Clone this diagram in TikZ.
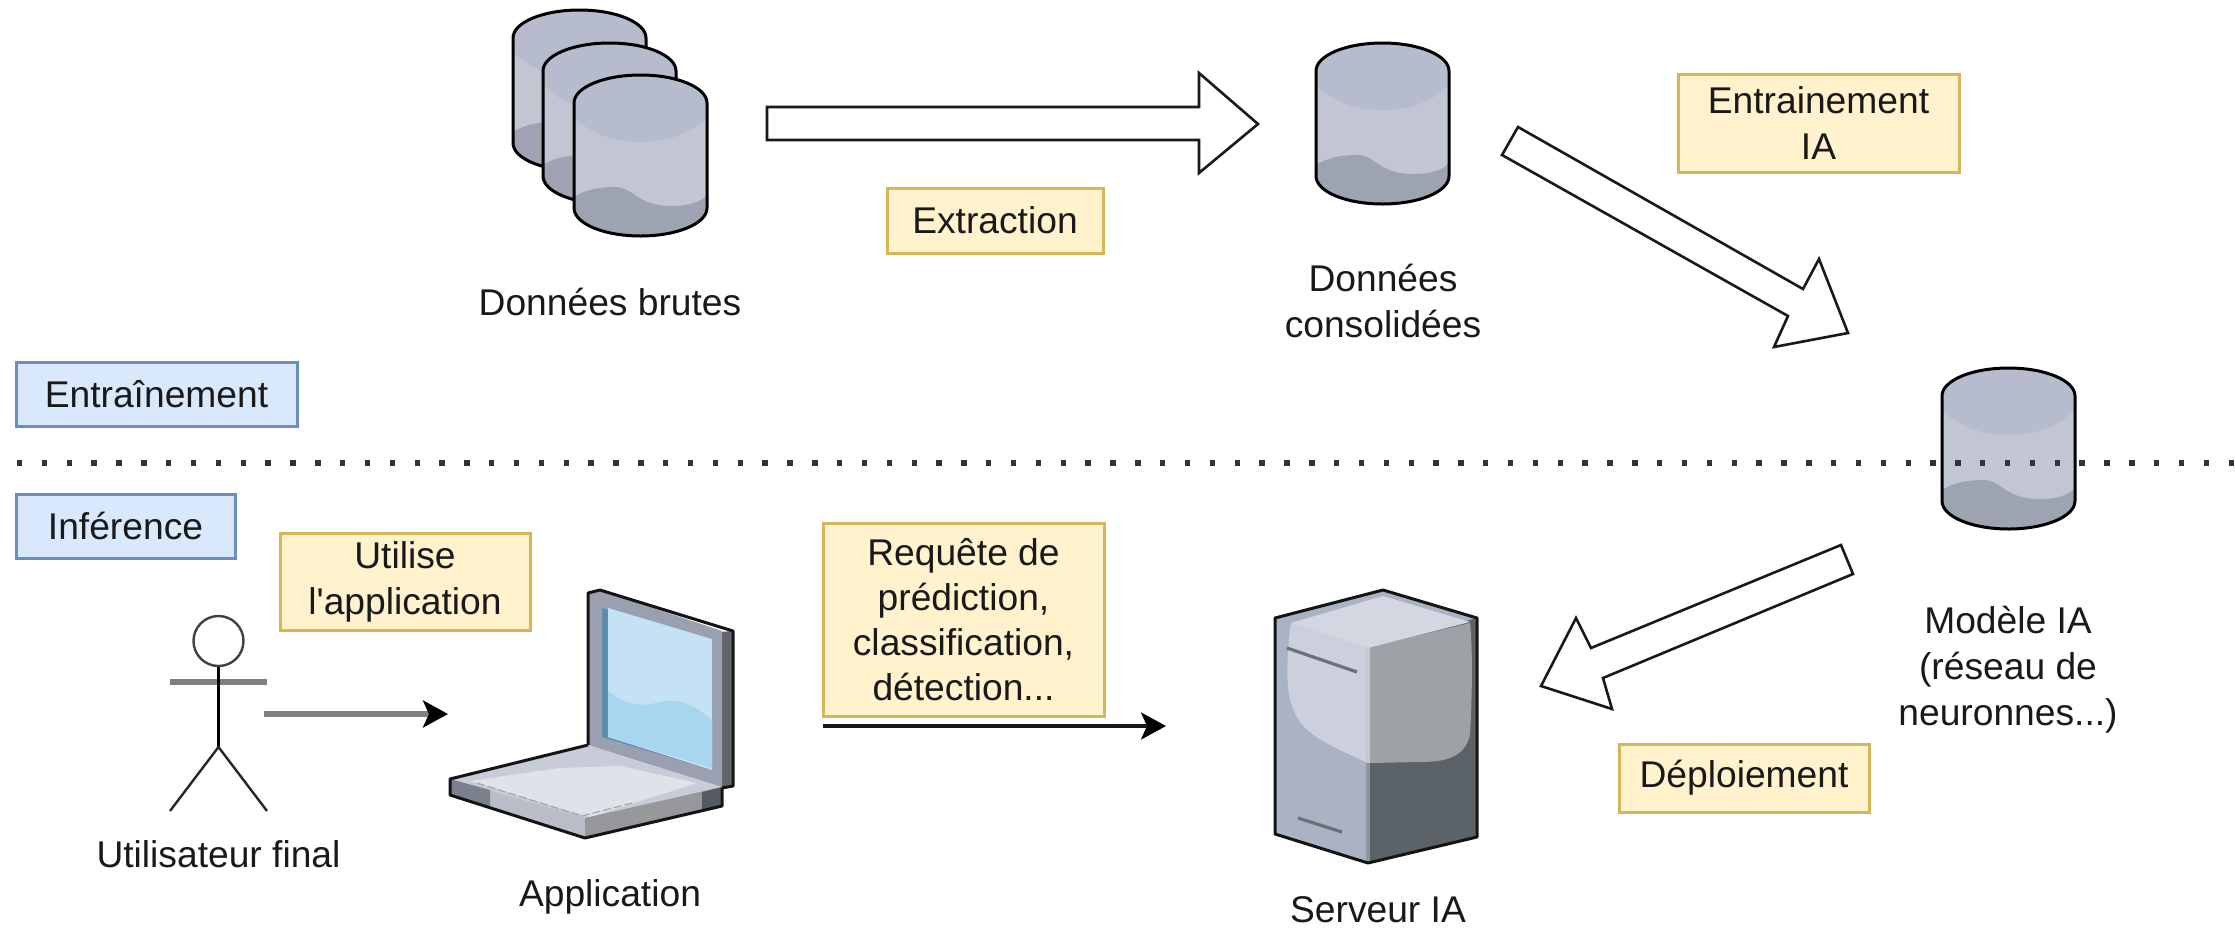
\documentclass[tikz,border=0pt]{standalone}
\usepackage{fontspec}
\setmainfont{Liberation Sans}
\newfontfamily\labelfont{Liberation Sans}
\usetikzlibrary{arrows.meta}
\definecolor{yfill}{HTML}{FFF2CC}\definecolor{ydraw}{HTML}{D6B656}
\definecolor{bfill}{HTML}{DAE8FC}\definecolor{bdraw}{HTML}{6C8EBF}
\definecolor{cyltop}{HTML}{B6BCCE}\definecolor{cylmid}{HTML}{C2C6D2}\definecolor{cylbot}{HTML}{9EA3B2}
\definecolor{bezel}{HTML}{9AA0B0}\definecolor{lapside}{HTML}{62666C}\definecolor{lapstrip}{HTML}{5E8CAC}
\definecolor{scrlight}{HTML}{C5E2F4}\definecolor{scrdark}{HTML}{A9D6EF}
\definecolor{deckA}{HTML}{C8CCD8}\definecolor{deckB}{HTML}{E0E2EA}\definecolor{frontL}{HTML}{B8BDC8}\definecolor{frontR}{HTML}{96989C}\definecolor{frontE}{HTML}{555A62}
\definecolor{srvL}{HTML}{A9B3C4}\definecolor{srvD}{HTML}{5B6268}\definecolor{srvR}{HTML}{9EA1A6}\definecolor{srvLL}{HTML}{CCD0DC}\definecolor{srvT}{HTML}{D3D7E2}\definecolor{srvM}{HTML}{8E96A4}
\tikzset{
  lbl/.style={font=\labelfont\fontsize{18.6}{23}\selectfont,align=center,inner sep=0pt,text=black!90},
  ybox/.style={lbl,draw=ydraw,fill=yfill,line width=1.5pt},
  bbox/.style={lbl,draw=bdraw,fill=bfill,line width=1.5pt},
  fatarrow/.style={draw=black!90,fill=white,line width=1.3pt,line join=miter},
  headtip/.style={-{Stealth[length=12.5pt,width=13.5pt,inset=3pt,black]}},
  flowblack/.style={draw=black!90,line width=1.6pt,headtip},
  flowgrey/.style={draw=black!50,line width=2.6pt,headtip},
  outline/.style={draw=black,line width=1.5pt,line join=round},
  stick/.style={draw=black!85,line width=1.2pt},
  iconedge/.style={draw=black!92,line width=1.5pt,line join=round}
}
\newcommand{\cylindre}[3]{%
 \begin{scope}[shift={(#2,#3)}]
  \coordinate (#1) at (66.5,80.5);
  \def\cylpath{(0,28) .. controls (0,12.5) and (29.7,0) .. (66.5,0) .. controls (103.3,0) and (133,12.5) .. (133,28) -- (133,133) .. controls (133,148.5) and (103.3,161) .. (66.5,161) .. controls (29.7,161) and (0,148.5) .. (0,133) -- cycle}
  \fill[cylmid] \cylpath;
  \begin{scope}
   \clip \cylpath;
   \fill[cyltop] (0,0) rectangle (133,45);
   \fill[cyltop] (0,42) .. controls (18,60) and (42,67) .. (66.5,67) .. controls (91,67) and (115,60) .. (133,42) -- cycle;
   \fill[cylbot] (0,122) .. controls (12,114) and (28,112) .. (41,112) .. controls (60,112) and (62,131) .. (98,131) .. controls (115,131) and (127,127) .. (133,120) -- (133,161) -- (0,161) -- cycle;
  \end{scope}
  \draw[outline] \cylpath;
 \end{scope}}
\begin{document}
\begin{tikzpicture}[x=0.5pt,y=-0.5pt]
\useasboundingbox (0,0) rectangle (2235,928);
% cylinders
\cylindre{brutA}{513}{10}
\cylindre{brutB}{543}{43}
\cylindre{brutC}{574}{75}
\cylindre{conso}{1316}{43}
\cylindre{modele}{1942}{368}
% dotted separator
\coordinate (sepL) at (16.9,463);
\coordinate (sepR) at (2235,463);
\draw[line width=2.7pt,black!80,dash pattern=on 2.7pt off 9.725pt] (sepL) -- (sepR);
% fat arrows
\draw[fatarrow] (767,107) -- (1199,107) -- (1199,73) -- (1258,124) -- (1199,173) -- (1199,140) -- (767,140) -- cycle;
\draw[fatarrow] (1518,127) -- (1803,289) -- (1819,259) -- (1848,333) -- (1774,347) -- (1788,316) -- (1502,155) -- cycle;
\draw[fatarrow] (1841,545) -- (1853,574) -- (1603,678) -- (1612,709) -- (1541,686) -- (1576,618) -- (1591,648) -- cycle;
% labels
\node[lbl] (tbrutes) at (610,302) {Données brutes};
\node[lbl] (tconso) at (1383,301) {Données\\consolidées};
\node[lbl] (tmodele) at (2008,670) {Modèle IA\\(réseau de\\neuronnes...)};
\node[lbl] (tuser) at (218.5,854) {Utilisateur final};
\node[lbl] (tapp) at (610,897) {Application};
\node[lbl] (tserv) at (1378,910) {Serveur IA};
% boxes
\node[ybox,minimum width=108pt,minimum height=32.5pt] (bext) at (995,220.5) {Extraction};
\node[ybox,minimum width=140.5pt,minimum height=49pt] (bent) at (1818.5,123.5) {Entrainement\\IA};
\node[ybox,minimum width=125pt,minimum height=48.5pt] (buti) at (405,581.5) {Utilise\\l'application};
\node[ybox,font=\labelfont\fontsize{18.6}{22.5}\selectfont,minimum width=140.5pt,minimum height=96.5pt] (breq) at (963.5,619.5) {Requête de\\prédiction,\\classification,\\détection...};
\node[ybox,minimum width=125pt,minimum height=34pt] (bdep) at (1744,778) {Déploiement};
\node[bbox,minimum width=140.5pt,minimum height=32pt] (bentr) at (156.5,394) {Entraînement};
\node[bbox,minimum width=109.5pt,minimum height=32pt] (binf) at (125.5,526) {Inférence};
% stick figure
\node[draw=black!75,line width=1.2pt,circle,minimum size=25pt,inner sep=0pt] (head) at (218.5,641) {};
\coordinate (hip) at (218.5,747);
\coordinate (armL) at (170,682);\coordinate (armR) at (267,682);
\coordinate (legL) at (170,811);\coordinate (legR) at (267,811);
\draw[draw=black!50,line width=2.6pt] (armL) -- (armR);
\draw[stick,draw=black] (head.south) -- (hip);
\draw[stick] (legL) -- (hip) -- (legR);
% laptop
\node[inner sep=0pt,minimum size=0pt] (laptop) at (590,715) {};
\fill[lapside] (720,632) -- (733,631) -- (733,786) -- (720,788) -- cycle;
\fill[bezel] (588,593) -- (600,590) -- (722,631) -- (722,788) -- (588,745) -- cycle;
\fill[lapstrip] (602,608) -- (712,639) -- (712,770) -- (602,737) -- cycle;
\fill[scrlight] (608,608) -- (712,639) -- (712,770) -- (608,737) -- cycle;
\fill[scrdark] (608,691) .. controls (630,708) and (645,706) .. (660,702) .. controls (680,697) and (695,706) .. (712,720) -- (712,768) -- (608,737) -- cycle;
\fill[deckA] (450,779) -- (588,745) -- (722,787) -- (585,820) -- cycle;
\fill[deckB] (470,781) -- (560,768) -- (620,766) -- (697,783) -- (590,817) -- cycle;
\fill[frontL] (450,779) -- (585,818) -- (585,838) -- (450,795) -- cycle;
\fill[frontR] (585,818) -- (722,787) -- (722,806) -- (585,838) -- cycle;
\fill[frontE] (702,792) -- (722,787) -- (722,806) -- (702,811) -- cycle;
\fill[bezel!80!black] (450,779) -- (490,790) -- (490,807) -- (450,795) -- cycle;
\draw[black!35,line width=0.6pt,dash pattern=on 4pt off 1.5pt] (477,783) -- (582,816) -- (632,803);
\draw[iconedge] (588,745) -- (588,593) -- (600,590) -- (733,631) -- (733,786) -- (722,788);
\draw[iconedge] (588,745) -- (450,779) -- (450,795) -- (585,838) -- (722,806) -- (722,788);
% server
\node[inner sep=0pt,minimum size=0pt] (serveur) at (1376,726) {};
\fill[srvL] (1275,618) -- (1383,590) -- (1477,618) -- (1477,837) -- (1368,863) -- (1275,834) -- cycle;
\fill[srvD] (1370,647) -- (1477,618) -- (1477,837) -- (1370,863) -- cycle;
\fill[srvR] (1370,647) -- (1470,623) .. controls (1473,650) and (1472,700) .. (1470,735) .. controls (1465,755) and (1450,762) .. (1420,762) -- (1370,763) -- cycle;
\fill[srvLL] (1291,623) -- (1368,647) -- (1368,763) .. controls (1330,745) and (1300,735) .. (1292,705) .. controls (1285,690) and (1287,650) .. (1291,623) -- cycle;
\fill[srvT] (1291,623) -- (1383,596) -- (1470,622) -- (1368,648) -- cycle;
\fill[srvM] (1366,763) rectangle (1370,863);
\fill[srvLL!80!srvR] (1366,648) rectangle (1370,763);
\draw[srvD!90,line width=1.6pt] (1287,648) -- (1357,672);
\draw[srvD!90,line width=1.6pt] (1298,818) -- (1342,832);
\draw[iconedge] (1275,618) -- (1383,590) -- (1477,618) -- (1477,837) -- (1368,863) -- (1275,834) -- cycle;
% thin flows
\coordinate (flowA) at (264,714);
\coordinate (flowB) at (448,714);
\coordinate (flowC) at (823,726);
\coordinate (flowD) at (1166,726);
\draw[flowgrey] (flowA) -- (flowB);
\draw[flowblack] (flowC) -- (flowD);
\end{tikzpicture}
\end{document}
